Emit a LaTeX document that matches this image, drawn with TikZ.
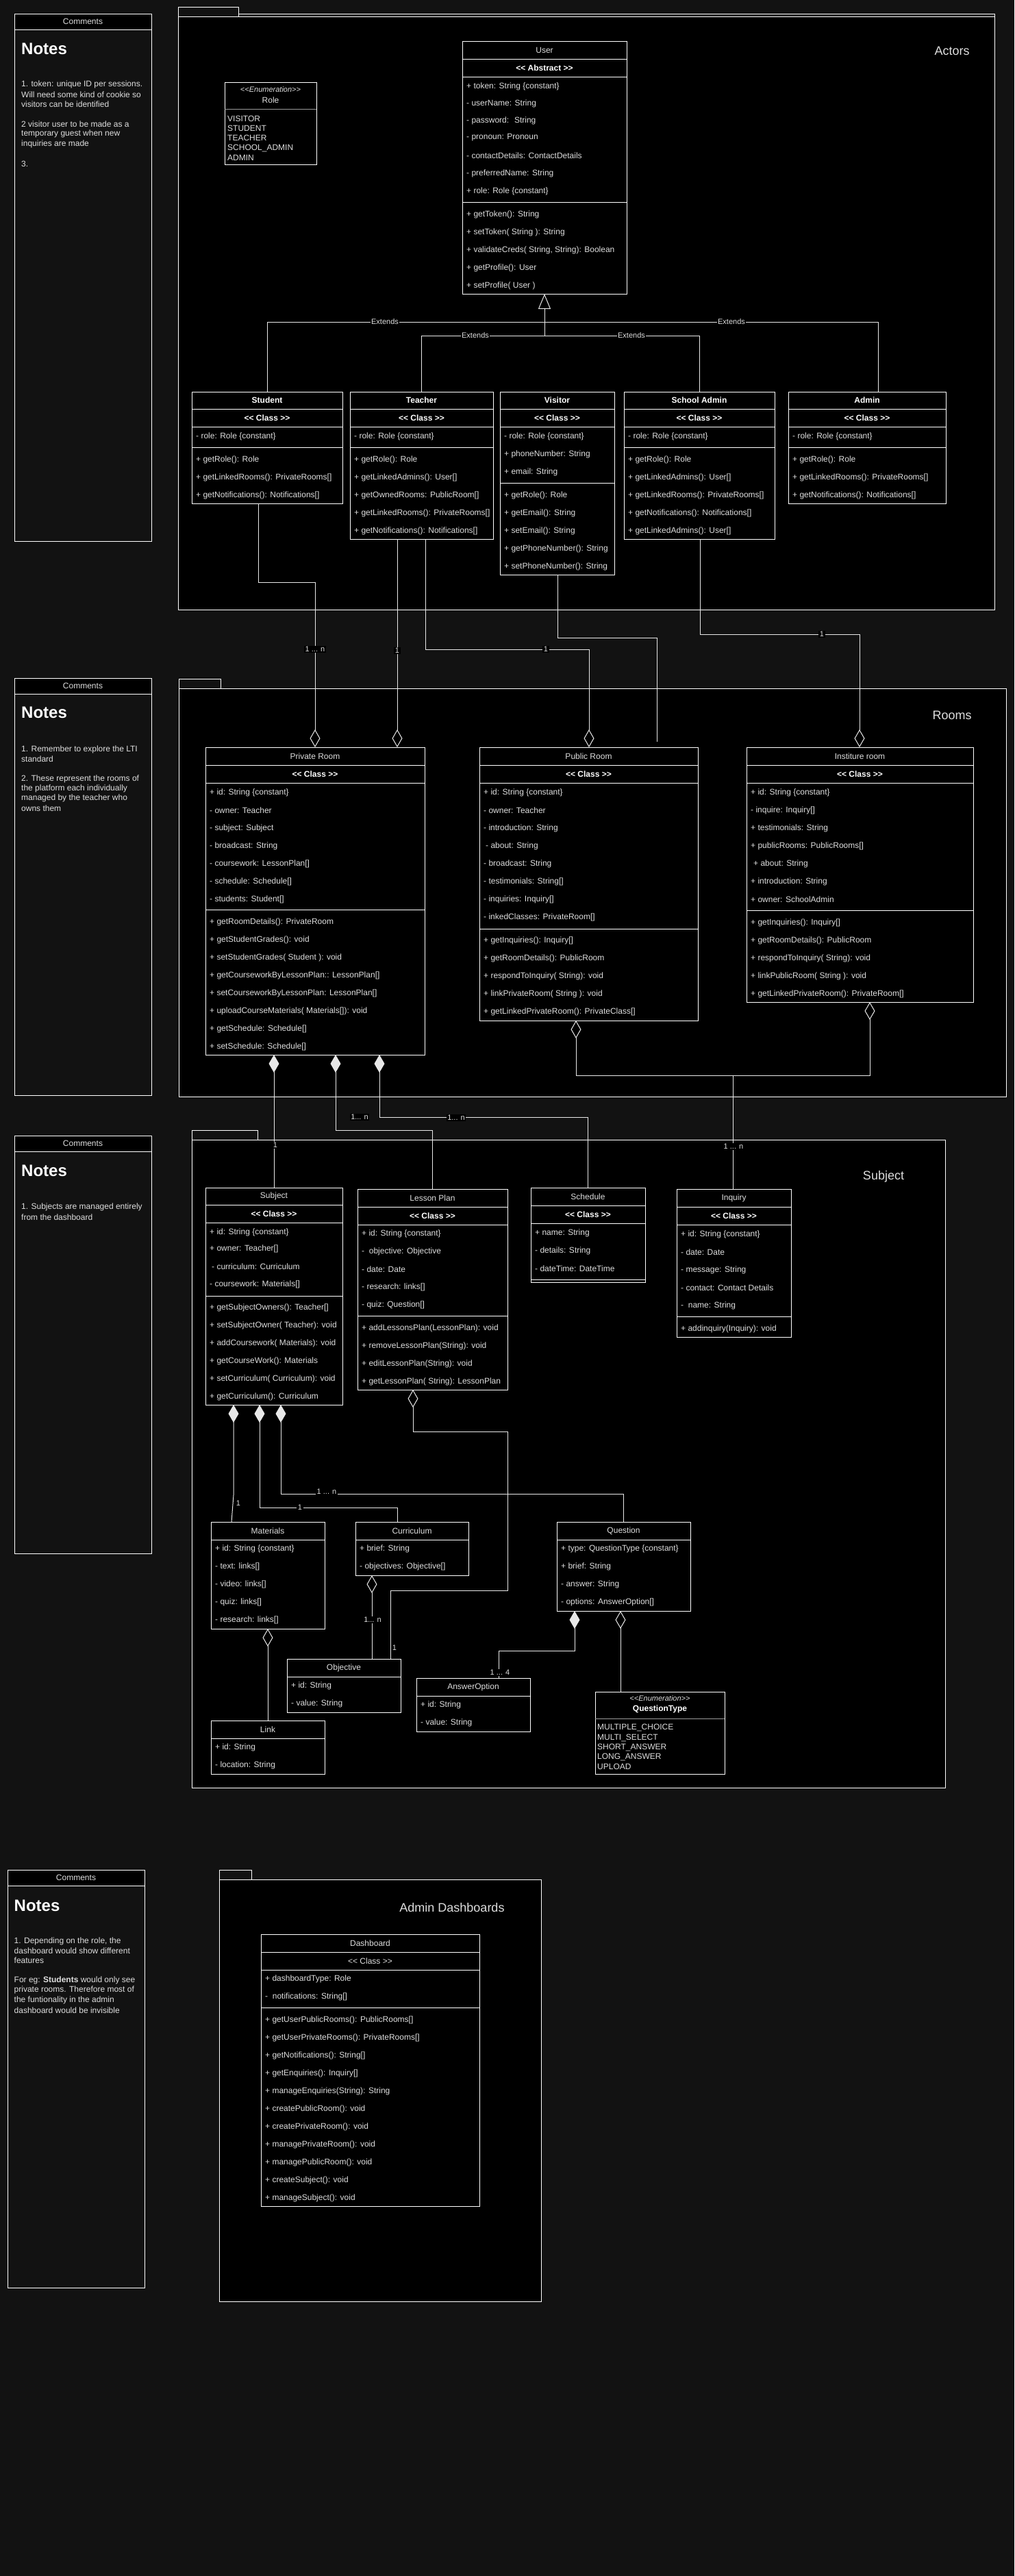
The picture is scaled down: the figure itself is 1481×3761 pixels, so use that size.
\documentclass[tikz,border=0pt]{standalone}
\usepackage{fontspec}
\setmainfont{Liberation Sans}[Ligatures=TeXOff]
\usetikzlibrary{arrows.meta}

\definecolor{bgc}{HTML}{121212}
\definecolor{txtc}{HTML}{DEDEDE}
\definecolor{linec}{HTML}{E8E8E8}
\definecolor{sepc}{HTML}{9A9A9A}

\newcounter{tn}
\newcommand\rf{\fontsize{12}{14}\selectfont}
% class / enumeration frame from its corners
\newcommand\clsbox[5]{\node[cls, minimum width={#4-#2}, minimum height={#5-#3}] (#1) at ({(#2+#4)/2},{(#3+#5)/2}) {};}
% compartment separator across a class
\newcommand\csep[3][sepl]{\draw[#1] (#2.west |- 0,#3) -- (#2.east |- 0,#3);}
% left aligned member line
\newcommand\rw[3]{\stepcounter{tn}\node[rowtxt] (t\arabic{tn}) at (#1,#2) {#3};}
% centred text
\newcommand\ct[4][ttl]{\stepcounter{tn}\node[#1] (t\arabic{tn}) at (#2,#3) {#4};}
% package frame: name, left, tab top, tab right, body top, right, bottom
\newcommand\pkgfr[7]{%
  \node[pkgbody, minimum width={#6-#2}, minimum height={#7-#5}] (#1) at ({(#2+#6)/2},{(#5+#7)/2}) {};
  \node[pkgtab, minimum width={#4-#2}, minimum height={#5-#3}] (#1tab) at ({(#2+#4)/2},{(#3+#5)/2}) {};}
% comments panel
\newcommand\cmbox[5]{%
  \node[cmt, minimum width={#4-#2}, minimum height={#5-#3}] (#1) at ({(#2+#4)/2},{(#3+#5)/2}) {};
  \node[cmthead, minimum width={#4-#2}, minimum height=23, anchor=north] (#1h) at (#1.north) {Comments};}

\begin{document}
\begin{tikzpicture}[x=1pt,y=-1pt,
  cls/.style={draw=white, fill=black, line width=1pt, inner sep=0, outer sep=0, rectangle},
  sepl/.style={draw=white, line width=1pt},
  greysep/.style={draw=sepc, line width=1pt},
  rowtxt/.style={anchor=west, inner sep=0, text=txtc, font=\rf},
  ttl/.style={inner sep=0, text=txtc, font=\rf},
  ttlb/.style={inner sep=0, text=white, font=\rf\bfseries},
  enumst/.style={inner sep=0, text=txtc, font=\fontsize{11}{13}\selectfont\itshape},
  conn/.style={draw=linec, line width=1pt},
  mult/.style={inner sep=1.5pt, fill=black, text=txtc, font=\fontsize{11}{13}\selectfont},
  pkgbody/.style={draw=white, fill=black, line width=1pt, inner sep=0, outer sep=0},
  pkgtab/.style={draw=white, fill=bgc, line width=1pt, inner sep=0, outer sep=0},
  pkgname/.style={inner sep=0, text=txtc, font=\fontsize{18}{22}\selectfont},
  cmt/.style={draw=white, fill=bgc, line width=1pt, inner sep=0, outer sep=0},
  cmthead/.style={draw=white, fill=black, line width=1pt, inner sep=0, outer sep=0, text=txtc, font=\rf},
  notesh/.style={anchor=west, inner sep=0, text=white, font=\fontsize{24}{28}\selectfont\bfseries},
  cmtxt/.style={anchor=west, inner sep=0, text=txtc, font=\rf},
  odia/.tip={Diamond[open, length=26pt, width=15pt]},
  fdia/.tip={Diamond[length=26pt, width=15pt]},
  gen/.tip={Triangle[open, length=22pt, width=18pt]},
]
\fill[bgc] (0,0) rectangle (1481,3761);
\useasboundingbox (0,0) rectangle (1481,3761);

% ---------------- comments panels ----------------
\cmbox{cm1}{21}{20}{221}{790}
\ct[notesh]{31}{71}{Notes}
\ct[cmtxt]{31}{123.5}{1. token: unique ID per sessions.}
\ct[cmtxt]{31}{138}{Will need some kind of cookie so}
\ct[cmtxt]{31}{152.5}{visitors can be identified}
\ct[cmtxt]{31}{181.5}{2 visitor user to be made as a}
\ct[cmtxt]{31}{195.5}{temporary guest when new}
\ct[cmtxt]{31}{210}{inquiries are made}
\ct[cmtxt]{31}{239}{3.}

\cmbox{cm2}{21}{990}{221}{1599}
\ct[notesh]{31}{1040}{Notes}
\ct[cmtxt]{31}{1094}{1. Remember to explore the LTI}
\ct[cmtxt]{31}{1108.5}{standard}
\ct[cmtxt]{31}{1137}{2. These represent the rooms of}
\ct[cmtxt]{31}{1151}{the platform each individually}
\ct[cmtxt]{31}{1165}{managed by the teacher who}
\ct[cmtxt]{31}{1180}{owns them}

\cmbox{cm3}{21}{1658}{221}{2268}
\ct[notesh]{31}{1709}{Notes}
\ct[cmtxt]{31}{1762}{1. Subjects are managed entirely}
\ct[cmtxt]{31}{1777}{from the dashboard}

\cmbox{cm4}{11}{2730}{211}{3340}
\ct[notesh]{20.5}{2782}{Notes}
\ct[cmtxt]{20.5}{2834}{1. Depending on the role, the}
\ct[cmtxt]{20.5}{2848}{dashboard would show different}
\ct[cmtxt]{20.5}{2862.5}{features}
\ct[cmtxt]{20.5}{2891.5}{For eg: \textbf{Students} would only see}
\ct[cmtxt]{20.5}{2905.5}{private rooms. Therefore most of}
\ct[cmtxt]{20.5}{2920.5}{the funtionality in the admin}
\ct[cmtxt]{20.5}{2935}{dashboard would be invisible}

% ---------------- packages ----------------
\pkgfr{actors}{260}{10}{348}{24}{1452}{890}
\draw[sepl] (actorstab.east |- 0,20) -- (actors.east |- 0,20) -- (actors.north east);
\ct[pkgname]{1390}{74}{Actors}
\pkgfr{rooms}{261}{991}{322}{1005}{1469}{1601}
\ct[pkgname]{1390}{1044}{Rooms}
\pkgfr{subjpkg}{280}{1650}{376}{1664}{1380}{2610}
\ct[pkgname]{1290}{1718}{Subject}
\pkgfr{dash}{320}{2730}{367}{2744}{790}{3360}
\ct[pkgname]{660}{2785}{Admin Dashboards}

% ---------------- Actors ----------------
\clsbox{role}{328}{120}{462}{240}
\csep[greysep]{role}{159}
\ct[enumst]{395}{131}{<<Enumeration>>}
\ct{395}{146}{Role}
\rw{332}{173}{VISITOR}
\rw{332}{187}{STUDENT}
\rw{332}{201}{TEACHER}
\rw{332}{216}{SCHOOL\_ADMIN}
\rw{332}{230}{ADMIN}

\clsbox{user}{675}{60}{915}{429}
\csep{user}{86}\csep{user}{112}\csep{user}{295}
\ct{795}{73}{User}
\ct[ttlb]{795}{99}{<< Abstract >>}
\rw{681}{126}{+ token: String \{constant\}}
\rw{681}{151}{- userName: String}
\rw{681}{176}{- password: \ String}
\rw{681}{201}{- pronoun: Pronoun}
\rw{681}{227}{- contactDetails: ContactDetails}
\rw{681}{253}{- preferredName: String}
\rw{681}{279}{+ role: Role \{constant\}}
\rw{681}{313}{+ getToken(): String}
\rw{681}{339}{+ setToken( String ): String}
\rw{681}{365}{+ validateCreds( String, String): Boolean}
\rw{681}{391}{+ getProfile(): User}
\rw{681}{417}{+ setProfile( User )}

\clsbox{student}{280}{572}{500}{735}
\csep{student}{597}\csep{student}{623}\csep{student}{653}
\ct[ttlb]{390}{584}{Student}
\ct[ttlb]{390}{610}{<< Class >>}
\rw{286}{637}{- role: Role \{constant\}}
\rw{286}{671}{+ getRole(): Role}
\rw{286}{697}{+ getLinkedRooms(): PrivateRooms[]}
\rw{286}{723}{+ getNotifications(): Notifications[]}

\clsbox{teacher}{511}{572}{720}{787}
\csep{teacher}{597}\csep{teacher}{623}\csep{teacher}{653}
\ct[ttlb]{615.5}{584}{Teacher}
\ct[ttlb]{615.5}{610}{<< Class >>}
\rw{517}{637}{- role: Role \{constant\}}
\rw{517}{671}{+ getRole(): Role}
\rw{517}{697}{+ getLinkedAdmins(): User[]}
\rw{517}{723}{+ getOwnedRooms: PublicRoom[]}
\rw{517}{749}{+ getLinkedRooms(): PrivateRooms[]}
\rw{517}{775}{+ getNotifications(): Notifications[]}

\clsbox{visitor}{730}{572}{897}{839}
\csep{visitor}{597}\csep{visitor}{623}\csep{visitor}{705}
\ct[ttlb]{813.5}{584}{Visitor}
\ct[ttlb]{813.5}{610}{<< Class >>}
\rw{736}{637}{- role: Role \{constant\}}
\rw{736}{663}{+ phoneNumber: String}
\rw{736}{689}{+ email: String}
\rw{736}{723}{+ getRole(): Role}
\rw{736}{749}{+ getEmail(): String}
\rw{736}{775}{+ setEmail(): String}
\rw{736}{801}{+ getPhoneNumber(): String}
\rw{736}{827}{+ setPhoneNumber(): String}

\clsbox{sadmin}{911}{572}{1131}{787}
\csep{sadmin}{597}\csep{sadmin}{623}\csep{sadmin}{653}
\ct[ttlb]{1021}{584}{School Admin}
\ct[ttlb]{1021}{610}{<< Class >>}
\rw{917}{637}{- role: Role \{constant\}}
\rw{917}{671}{+ getRole(): Role}
\rw{917}{697}{+ getLinkedAdmins(): User[]}
\rw{917}{723}{+ getLinkedRooms(): PrivateRooms[]}
\rw{917}{749}{+ getNotifications(): Notifications[]}
\rw{917}{775}{+ getLinkedAdmins(): User[]}

\clsbox{admin}{1151}{572}{1381}{735}
\csep{admin}{597}\csep{admin}{623}\csep{admin}{653}
\ct[ttlb]{1266}{584}{Admin}
\ct[ttlb]{1266}{610}{<< Class >>}
\rw{1157}{637}{- role: Role \{constant\}}
\rw{1157}{671}{+ getRole(): Role}
\rw{1157}{697}{+ getLinkedRooms(): PrivateRooms[]}
\rw{1157}{723}{+ getNotifications(): Notifications[]}

% ---------------- Rooms ----------------
\clsbox{priv}{300}{1091}{620}{1540}
\csep{priv}{1117}\csep{priv}{1143}\csep{priv}{1328}
\ct{460}{1104}{Private Room}
\ct[ttlb]{460}{1130}{<< Class >>}
\rw{306}{1157}{+ id: String \{constant\}}
\rw{306}{1183}{- owner: Teacher}
\rw{306}{1209}{- subject: Subject}
\rw{306}{1235}{- broadcast: String}
\rw{306}{1261}{- coursework: LessonPlan[]}
\rw{306}{1287}{- schedule: Schedule[]}
\rw{306}{1313}{- students: Student[]}
\rw{306}{1346}{+ getRoomDetails(): PrivateRoom}
\rw{306}{1372}{+ getStudentGrades(): void}
\rw{306}{1398}{+ setStudentGrades( Student ): void}
\rw{306}{1424}{+ getCourseworkByLessonPlan:: LessonPlan[]}
\rw{306}{1450}{+ setCourseworkByLessonPlan: LessonPlan[]}
\rw{306}{1476}{+ uploadCourseMaterials( Materials[]): void}
\rw{306}{1502}{+ getSchedule: Schedule[]}
\rw{306}{1528}{+ setSchedule: Schedule[]}

\clsbox{pub}{700}{1091}{1019}{1490}
\csep{pub}{1117}\csep{pub}{1143}\csep{pub}{1356}
\ct{859.5}{1104}{Public Room}
\ct[ttlb]{859.5}{1130}{<< Class >>}
\rw{706}{1157}{+ id: String \{constant\}}
\rw{706}{1183}{- owner: Teacher}
\rw{706}{1209}{- introduction: String}
\rw{709}{1235}{- about: String}
\rw{706}{1261}{- broadcast: String}
\rw{706}{1287}{- testimonials: String[]}
\rw{706}{1313}{- inquiries: Inquiry[]}
\rw{706}{1339}{- inkedClasses: PrivateRoom[]}
\rw{706}{1373}{+ getInquiries(): Inquiry[]}
\rw{706}{1399}{+ getRoomDetails(): PublicRoom}
\rw{706}{1425}{+ respondToInquiry( String): void}
\rw{706}{1451}{+ linkPrivateRoom( String ): void}
\rw{706}{1477}{+ getLinkedPrivateRoom(): PrivateClass[]}

\clsbox{inst}{1090}{1091}{1421}{1463}
\csep{inst}{1117}\csep{inst}{1143}\csep{inst}{1329}
\ct{1255.5}{1104}{Institure room}
\ct[ttlb]{1255.5}{1130}{<< Class >>}
\rw{1096}{1157}{+ id: String \{constant\}}
\rw{1096}{1183}{- inquire: Inquiry[]}
\rw{1096}{1209}{+ testimonials: String}
\rw{1096}{1235}{+ publicRooms: PublicRooms[]}
\rw{1100}{1261}{+ about: String}
\rw{1096}{1287}{+ introduction: String}
\rw{1096}{1313}{+ owner: SchoolAdmin}
\rw{1096}{1347}{+ getInquiries(): Inquiry[]}
\rw{1096}{1373}{+ getRoomDetails(): PublicRoom}
\rw{1096}{1399}{+ respondToInquiry( String): void}
\rw{1096}{1425}{+ linkPublicRoom( String ): void}
\rw{1096}{1451}{+ getLinkedPrivateRoom(): PrivateRoom[]}

% ---------------- Subject ----------------
\clsbox{subject}{300}{1734}{500}{2051}
\csep{subject}{1759}\csep{subject}{1785}\csep{subject}{1892}
\ct{400}{1746}{Subject}
\ct[ttlb]{400}{1772}{<< Class >>}
\rw{306}{1799}{+ id: String \{constant\}}
\rw{306}{1823}{+ owner: Teacher[]}
\rw{309}{1849}{- curriculum: Curriculum}
\rw{306}{1875}{- coursework: Materials[]}
\rw{306}{1909}{+ getSubjectOwners(): Teacher[]}
\rw{306}{1935}{+ setSubjectOwner( Teacher): void}
\rw{306}{1961}{+ addCoursework( Materials): void}
\rw{306}{1987}{+ getCourseWork(): Materials}
\rw{306}{2013}{+ setCurriculum( Curriculum): void}
\rw{306}{2039}{+ getCurriculum(): Curriculum}

\clsbox{lesson}{522}{1736}{741}{2029}
\csep{lesson}{1762}\csep{lesson}{1788}\csep{lesson}{1921}
\ct{631.5}{1749}{Lesson Plan}
\ct[ttlb]{631.5}{1775}{<< Class >>}
\rw{528}{1801}{+ id: String \{constant\}}
\rw{528}{1827}{- \ objective: Objective}
\rw{528}{1853}{- date: Date}
\rw{528}{1879}{- research: links[]}
\rw{528}{1905}{- quiz: Question[]}
\rw{528}{1939}{+ addLessonsPlan(LessonPlan): void}
\rw{528}{1965}{+ removeLessonPlan(String): void}
\rw{528}{1991}{+ editLessonPlan(String): void}
\rw{528}{2017}{+ getLessonPlan( String): LessonPlan}

\clsbox{schedule}{775}{1734}{942}{1872}
\csep{schedule}{1760}\csep{schedule}{1786}\csep{schedule}{1868}
\ct{858.5}{1747}{Schedule}
\ct[ttlb]{858.5}{1773}{<< Class >>}
\rw{781}{1800}{+ name: String}
\rw{781}{1826}{- details: String}
\rw{781}{1852}{- dateTime: DateTime}

\clsbox{inquiry}{988}{1736}{1155}{1952}
\csep{inquiry}{1762}\csep{inquiry}{1788}\csep{inquiry}{1922}
\ct{1071.5}{1749}{Inquiry}
\ct[ttlb]{1071.5}{1775}{<< Class >>}
\rw{994}{1802}{+ id: String \{constant\}}
\rw{994}{1828}{- date: Date}
\rw{994}{1854}{- message: String}
\rw{994}{1880}{- contact: Contact Details}
\rw{994}{1906}{- \ name: String}
\rw{994}{1940}{+ addinquiry(Inquiry): void}

\clsbox{materials}{308}{2222}{474}{2378}
\csep{materials}{2248}
\ct{391}{2235}{Materials}
\rw{314}{2261}{+ id: String \{constant\}}
\rw{314}{2287}{- text: links[]}
\rw{314}{2313}{- video: links[]}
\rw{314}{2339}{- quiz: links[]}
\rw{314}{2365}{- research: links[]}

\clsbox{curriculum}{519}{2222}{684}{2300}
\csep{curriculum}{2248}
\ct{601.5}{2235}{Curriculum}
\rw{525}{2261}{+ brief: String}
\rw{525}{2287}{- objectives: Objective[]}

\clsbox{objective}{419}{2422}{585}{2500}
\csep{objective}{2448}
\ct{502}{2435}{Objective}
\rw{425}{2461}{+ id: String}
\rw{425}{2487}{- value: String}

\clsbox{link}{308}{2512}{474}{2590}
\csep{link}{2538}
\ct{391}{2525}{Link}
\rw{314}{2551}{+ id: String}
\rw{314}{2577}{- location: String}

\clsbox{question}{813}{2222}{1008}{2352}
\csep{question}{2248}
\ct{910.5}{2235}{Question}
\rw{819}{2261}{+ type: QuestionType \{constant\}}
\rw{819}{2287}{+ brief: String}
\rw{819}{2313}{- answer: String}
\rw{819}{2339}{- options: AnswerOption[]}

\clsbox{answer}{608}{2450}{774}{2528}
\csep{answer}{2476}
\ct{691}{2463}{AnswerOption}
\rw{614}{2489}{+ id: String}
\rw{614}{2515}{- value: String}

\clsbox{qtype}{869}{2470}{1058}{2590}
\csep[greysep]{qtype}{2509}
\ct[enumst]{963.5}{2480}{<<Enumeration>>}
\ct[ttlb]{963.5}{2495}{QuestionType}
\rw{872}{2522}{MULTIPLE\_CHOICE}
\rw{872}{2537}{MULTI\_SELECT}
\rw{872}{2551}{SHORT\_ANSWER}
\rw{872}{2565}{LONG\_ANSWER}
\rw{872}{2579}{UPLOAD}

% ---------------- Admin Dashboards ----------------
\clsbox{dboard}{381}{2824}{700}{3221}
\csep{dboard}{2850}\csep{dboard}{2876}\csep{dboard}{2931}
\ct{540.5}{2837}{Dashboard}
\ct{540.5}{2863}{<< Class >>}
\rw{387}{2889}{+ dashboardType: Role}
\rw{387}{2915}{- \ notifications: String[]}
\rw{387}{2949}{+ getUserPublicRooms(): PublicRooms[]}
\rw{387}{2975}{+ getUserPrivateRooms(): PrivateRooms[]}
\rw{387}{3001}{+ getNotifications(): String[]}
\rw{387}{3027}{+ getEnquiries(): Inquiry[]}
\rw{387}{3053}{+ manageEnquiries(String): String}
\rw{387}{3079}{+ createPublicRoom(): void}
\rw{387}{3105}{+ createPrivateRoom(): void}
\rw{387}{3131}{+ managePrivateRoom(): void}
\rw{387}{3157}{+ managePublicRoom(): void}
\rw{387}{3183}{+ createSubject(): void}
\rw{387}{3209}{+ manageSubject(): void}

% ---------------- connectors ----------------
% generalisation of the actors
\draw[conn, gen-] (user.south -| 795,0) -- (795,490);
\draw[conn] (student.north -| 390,0) -- (390,470) -- (1282,470) -- (admin.north -| 1282,0);
\draw[conn] (teacher.north -| 615.5,0) -- (615.5,490) -- (1021,490) -- (sadmin.north -| 1021,0);
\ct[mult]{562}{470}{Extends}
\ct[mult]{1068}{470}{Extends}
\ct[mult]{694}{490}{Extends}
\ct[mult]{922}{490}{Extends}

% actors to rooms
\draw[conn, odia-] (priv.north -| 460,0) -- (460,850) -- (377,850) -- (student.south -| 377,0);
\draw[conn, odia-] (priv.north -| 580,0) -- (teacher.south -| 580,0);
\draw[conn, odia-] (pub.north -| 860,0) -- (860,948) -- (621,948) -- (teacher.south -| 621,0);
\coordinate (visend) at (959,1083);
\draw[conn] (visend) -- (959,931) -- (814,931) -- (visitor.south -| 814,0);
\draw[conn, odia-] (inst.north -| 1255,0) -- (1255,926) -- (1022,926) -- (sadmin.south -| 1022,0);
\ct[mult]{460}{948}{1 ... n}
\ct[mult]{580}{950}{1}
\ct[mult]{797}{948}{1}
\ct[mult]{1200}{926}{1}

% between the rooms
\draw[conn, odia-odia] (pub.south -| 841,0) -- (841,1570) -- (1270,1570) -- (inst.south -| 1270,0);
\draw[conn] (inquiry.north -| 1070,0) -- (1070,1570);
\ct[mult]{1071}{1674}{1 ... n}

% rooms to subject
\draw[conn, fdia-] (priv.south -| 400,0) -- (subject.north -| 400,0);
\draw[conn, fdia-] (priv.south -| 490,0) -- (490,1650) -- (631,1650) -- (lesson.north -| 631,0);
\draw[conn, fdia-] (priv.south -| 554,0) -- (554,1631) -- (858,1631) -- (schedule.north -| 858,0);
\ct[mult]{402}{1672}{1}
\ct[mult]{525}{1631}{1... n}
\ct[mult]{666}{1632}{1... n}

% inside subject
\draw[conn, fdia-] (subject.south -| 341,0) -- (341,2183) -- (materials.north -| 338,0);
\draw[conn, fdia-] (subject.south -| 379,0) -- (379,2201) -- (580,2201) -- (curriculum.north -| 580,0);
\draw[conn, fdia-] (subject.south -| 410,0) -- (410,2181) -- (910,2181) -- (question.north -| 910,0);
\draw[conn, odia-] (lesson.south -| 603,0) -- (603,2090) -- (741,2090) -- (741,2322) -- (570,2322) -- (objective.north -| 570,0);
\draw[conn, odia-] (curriculum.south -| 543,0) -- (objective.north -| 543,0);
\draw[conn, odia-] (materials.south -| 391,0) -- (link.north -| 391,0);
\draw[conn, fdia-] (question.south -| 839,0) -- (839,2410) -- (728,2410) -- (answer.north -| 728,0);
\draw[conn, odia-] (question.south -| 906,0) -- (qtype.north -| 906,0);
\ct[mult]{348}{2195}{1}
\ct[mult]{438}{2201}{1}
\ct[mult]{477}{2178}{1 ... n}
\ct[mult]{544}{2365}{1... n}
\ct[mult]{576}{2406}{1}
\ct[mult]{730}{2442}{1 ... 4}
\end{tikzpicture}
\end{document}
